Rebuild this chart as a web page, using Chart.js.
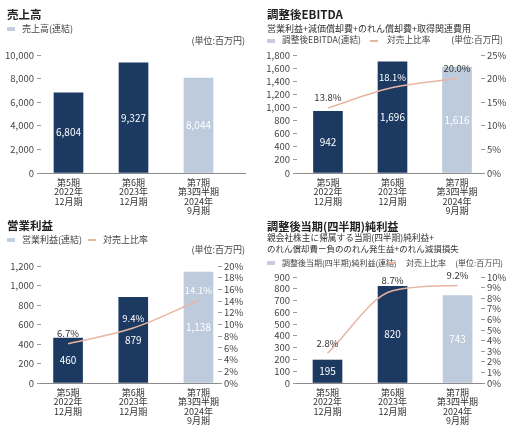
<!DOCTYPE html>
<html>
<head>
<meta charset="utf-8">
<script src="https://cdn.jsdelivr.net/npm/chart.js@4.4.1/dist/chart.umd.min.js"></script>
<style>
  body { margin: 0; background: #fff; font-family: 'Noto Sans CJK JP', sans-serif; color: #333; }
  #wrap { position: relative; width: 507px; height: 430px; overflow: hidden; }
  canvas { position: absolute; }
  .t { position: absolute; white-space: nowrap; line-height: 1; }
  .title { font-weight: bold; font-size: 11.5px; color: #222; }
  .sub { font-size: 9px; color: #333; }
  .leg { font-size: 9px; color: #444; }
  .sq { position: absolute; width: 8px; height: 4px; background: #c3cfdc; }
  .ln { position: absolute; width: 8px; height: 1.5px; background: #e8b5a2; }
</style>
</head>
<body>
<div id="wrap">
  <canvas id="sales" width="254" height="215" style="left:0;top:0"></canvas>
  <canvas id="ebitda" width="253" height="215" style="left:254px;top:0"></canvas>
  <canvas id="opincome" width="254" height="215" style="left:0;top:215px"></canvas>
  <canvas id="netincome" width="253" height="215" style="left:254px;top:215px"></canvas>

  <!-- 売上高 -->
  <div class="t title" style="left:7px;top:9px">売上高</div>
  <div class="sq" style="left:7px;top:27px"></div>
  <div class="t leg" style="left:22px;top:24px">売上高(連結)</div>
  <div class="t leg" style="right:262px;top:35.5px">(単位:百万円)</div>

  <!-- 調整後EBITDA -->
  <div class="t title" style="left:267px;top:9px">調整後EBITDA</div>
  <div class="t sub" style="left:267px;top:23.5px">営業利益+減価償却費+のれん償却費+取得関連費用</div>
  <div class="sq" style="left:267px;top:38.5px"></div>
  <div class="t leg" style="left:282px;top:35.7px;font-size:8.7px">調整後EBITDA(連結)</div>
  <div class="ln" style="left:370px;top:40px"></div>
  <div class="t leg" style="left:387px;top:35.7px;font-size:8.7px">対売上比率</div>
  <div class="t leg" style="right:4px;top:35.7px;font-size:8.7px">(単位:百万円)</div>

  <!-- 営業利益 -->
  <div class="t title" style="left:7px;top:219.5px">営業利益</div>
  <div class="sq" style="left:7px;top:237.5px"></div>
  <div class="t leg" style="left:22px;top:235px">営業利益(連結)</div>
  <div class="ln" style="left:88px;top:239px"></div>
  <div class="t leg" style="left:103px;top:235px">対売上比率</div>
  <div class="t leg" style="right:262px;top:244.5px">(単位:百万円)</div>

  <!-- 調整後当期純利益 -->
  <div class="t title" style="left:267px;top:221px;font-size:11.2px">調整後当期(四半期)純利益</div>
  <div class="t sub" style="left:267px;top:234px;font-size:8.7px">親会社株主に帰属する当期(四半期)純利益+</div>
  <div class="t sub" style="left:267px;top:244px;font-size:8.5px">のれん償却費ー負ののれん発生益+のれん減損損失</div>
  <div class="sq" style="left:267px;top:260.5px"></div>
  <div class="t leg" style="left:282px;top:258.5px;font-size:8px">調整後当期(四半期)純利益(連結)</div>
  <div class="ln" style="left:388px;top:262px"></div>
  <div class="t leg" style="left:406px;top:258.5px;font-size:8px">対売上比率</div>
  <div class="t leg" style="right:4px;top:258.5px;font-size:8px">(単位:百万円)</div>
</div>
<script>
const periods = [
  ['第5期', '2022年', '12月期'],
  ['第6期', '2023年', '12月期'],
  ['第7期', '第3四半期', '2024年', '9月期']
]
const salesValues = [6804, 9327, 8044]
const ebitdaValues = [942, 1696, 1616]
const ebitdaRatio = [13.8, 18.1, 20.0]
const opIncomeValues = [460, 879, 1138]
const opIncomeRatio = [6.7, 9.4, 14.1]
const netIncomeValues = [195, 820, 743]
const netIncomeRatio = [2.8, 8.7, 9.2]

const DARK = '#1c3962'
const LIGHT = '#bdcbdc'
const LINE = '#e8b5a2'
const FONT = "'Noto Sans CJK JP', sans-serif"
const barColors = [DARK, DARK, LIGHT]

function fmt(v) {
  return String(v).replace(/\B(?=(\d{3})+(?!\d))/g, ',')
}

// bar values in the middle of each bar, ratios just above the line points
const valueLabels = {
  id: 'valueLabels',
  afterDatasetsDraw(chart) {
    const ctx = chart.ctx
    ctx.save()
    ctx.textAlign = 'center'
    ctx.textBaseline = 'middle'
    chart.data.datasets.forEach((ds, di) => {
      chart.getDatasetMeta(di).data.forEach((el, i) => {
        if (ds.type === 'bar') {
          ctx.font = '10px ' + FONT
          ctx.fillStyle = '#fff'
          ctx.fillText(fmt(ds.data[i].y), el.x, (el.y + el.base) / 2)
        } else {
          ctx.font = '9.5px ' + FONT
          ctx.fillStyle = ds.labelColors[i]
          ctx.fillText(ds.data[i].y.toFixed(1) + '%', el.x, el.y - 10)
        }
      })
    })
    ctx.restore()
  }
}

function buildChart(id, o) {
  const canvas = document.getElementById(id)
  const W = canvas.width, H = canvas.height
  const tickMarks = {drawOnChartArea: false, drawTicks: true, tickLength: 4, color: '#9a9a9a'}
  const tickFont = {family: FONT, size: 9.5}

  const datasets = []
  if (o.ratio) {
    datasets.push({
      type: 'line',
      data: o.ratio.map((v, i) => ({x: i, y: v})),
      yAxisID: 'y1',
      borderColor: LINE,
      borderWidth: 1.5,
      pointRadius: 0,
      cubicInterpolationMode: 'monotone',
      labelColors: o.ratioColors,
      order: 0
    })
  }
  datasets.push({
    type: 'bar',
    data: o.values.map((v, i) => ({x: i, y: v})),
    yAxisID: 'y',
    backgroundColor: barColors,
    barThickness: 29,
    order: 1
  })

  const scales = {
    x: {
      type: 'linear',
      offset: false,
      min: o.xMin,
      max: o.xMax,
      afterBuildTicks: s => { s.ticks = periods.map((p, i) => ({value: i})) },
      afterFit: s => { s.height = H - o.B },
      grid: {display: false, drawTicks: false, offset: false},
      border: {display: true, color: '#8a8a8a', width: 1},
      ticks: {
        autoSkip: false, maxRotation: 0, padding: 5, color: '#333',
        font: {family: FONT, size: 9, lineHeight: 1.03},
        callback: v => periods[v]
      }
    },
    y: {
      position: 'left',
      min: 0, max: o.max,
      afterFit: s => { s.width = o.L },
      grid: tickMarks,
      border: {display: false},
      ticks: {stepSize: o.step, autoSkip: false, padding: 3, color: '#444', font: tickFont, callback: v => fmt(v)}
    }
  }
  if (o.ratio) {
    scales.y1 = {
      position: 'right',
      min: 0, max: o.rMax,
      afterFit: s => { s.width = W - o.R },
      grid: tickMarks,
      border: {display: false},
      ticks: {stepSize: o.rStep, autoSkip: false, padding: 2, color: '#444', font: tickFont, callback: v => v + '%'}
    }
  }

  new Chart(canvas, {
    data: {datasets},
    options: {
      responsive: false,
      animation: false,
      layout: {padding: {top: o.T, right: o.ratio ? 0 : W - o.R, left: 0, bottom: 0}},
      plugins: {legend: {display: false}, tooltip: {enabled: false}},
      scales
    },
    plugins: [valueLabels]
  })
}

buildChart('sales', {
  values: salesValues, max: 10000, step: 2000,
  L: 41, T: 55, R: 245, B: 173, xMin: -0.423, xMax: 2.715
})
buildChart('ebitda', {
  values: ebitdaValues, max: 1800, step: 200,
  ratio: ebitdaRatio, rMax: 25, rStep: 5, ratioColors: ['#333', '#fff', '#333'],
  L: 43, T: 55, R: 227, B: 173, xMin: -0.48, xMax: 2.372
})
buildChart('opincome', {
  values: opIncomeValues, max: 1200, step: 200,
  ratio: opIncomeRatio, rMax: 20, rStep: 2, ratioColors: ['#333', '#fff', '#fff'],
  L: 41, T: 51, R: 218, B: 168, xMin: -0.415, xMax: 2.3
})
buildChart('netincome', {
  values: netIncomeValues, max: 900, step: 100,
  ratio: netIncomeRatio, rMax: 10, rStep: 1, ratioColors: ['#333', '#333', '#333'],
  L: 43, T: 62, R: 227, B: 168, xMin: -0.469, xMax: 2.36
})
</script>
</body>
</html>
